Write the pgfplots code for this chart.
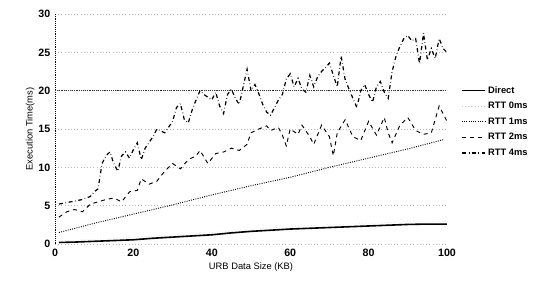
\documentclass[border=0pt]{standalone}
\usepackage{fontspec}
\setmainfont{Liberation Sans}
\usepackage{pgfplots}
\pgfplotsset{compat=1.18}
\begin{document}
\begin{tikzpicture}
\begin{axis}[
  scale only axis,
  width=294pt, height=172.5pt,
  xmin=0, xmax=100, ymin=0, ymax=30,
  xtick={0,20,40,60,80,100},
  ytick={0,5,10,15,20,25,30},
  major tick length=0pt,
  axis lines=left,
  x axis line style={draw=none},
  y axis line style={densely dotted, black, -},
  ymajorgrids,
  grid style={gray!55, dotted},
  extra y ticks={20},
  extra y tick labels={},
  extra y tick style={grid style={black!80, densely dotted, line width=0.6pt}},
  tick label style={font=\footnotesize\bfseries},
  /pgf/number format/assume math mode=true,
  xlabel={\scriptsize URB Data Size (KB)},
  ylabel={\scriptsize Execution Time(ms)},
  xlabel style={yshift=2pt},
  ylabel style={yshift=-4pt},
  legend style={draw=none, fill=none, at={(rel axis cs:1.025,0.71)}, anchor=north west,
    font=\scriptsize\bfseries, row sep=1.3pt},
  legend cell align=left,
]
\addplot[black, line width=1.2pt] coordinates {
(1,0.2)(5,0.25)(10,0.35)(15,0.45)(20,0.55)(25,0.75)(30,0.9)(35,1.05)(40,1.2)(45,1.45)(50,1.65)(55,1.8)(60,1.95)(65,2.05)(70,2.15)(75,2.25)(80,2.35)(85,2.45)(90,2.55)(95,2.6)(100,2.6)};
\addlegendentry{Direct}
\addplot[gray!45, dotted] coordinates {
(1,0.4)(10,0.6)(20,0.9)(30,1.2)(40,1.5)(50,1.9)(60,2.3)(70,2.5)(80,2.7)(90,2.9)(100,3.0)};
\addlegendentry{RTT 0ms}
\addplot[black, densely dotted, line width=0.7pt] coordinates {
(1,1.5)(10,2.7)(20,3.9)(30,5.1)(40,6.4)(50,7.6)(60,8.7)(70,10.0)(80,11.2)(90,12.4)(99,13.6)};
\addlegendentry{RTT 1ms}
\addplot[black, dashed, line width=0.7pt] coordinates {
(1,3.5)(3,4.2)(5,4.5)(7,4.2)(9,5.2)(11,5.5)(13,5.8)(15,6.0)(17,5.5)(19,6.8)(21,7.0)(22,8.5)(24,7.8)(26,8.2)(28,9.5)(30,10.5)(32,9.8)(34,11.0)(36,11.5)(37,12.2)(39,10.5)(41,11.8)(43,12.0)(45,12.5)(47,12.2)(49,13.0)(50,14.5)(52,15.0)(54,15.4)(55,14.8)(57,15.2)(58,14.2)(59,12.8)(60,15.0)(62,14.3)(63,15.5)(65,14.0)(66,13.0)(68,15.5)(70,14.0)(71,11.5)(72,14.5)(74,16.2)(76,14.0)(78,13.5)(80,16.0)(82,14.2)(84,16.5)(85,14.5)(86,13.2)(88,15.5)(90,16.5)(92,14.8)(94,14.3)(96,14.5)(98,18.0)(100,16.0)};
\addlegendentry{RTT 2ms}
\addplot[black, dash dot, line width=0.9pt] coordinates {
(1,5.2)(3,5.4)(5,5.6)(7,5.8)(9,6.2)(10,6.8)(11,7.2)(12,10.5)(13,11.5)(14,12.0)(15,10.5)(16,9.5)(17,11.5)(18,12.0)(19,11.2)(20,12.3)(21,13.2)(22,11.0)(23,12.5)(25,14.0)(26,15.0)(28,14.5)(30,16.0)(31,17.8)(32,18.3)(33,16.2)(34,15.8)(35,17.5)(36,18.8)(37,20.0)(38,19.5)(40,18.8)(41,19.8)(42,18.0)(43,17.0)(44,19.5)(45,20.2)(46,19.0)(47,18.2)(48,20.5)(49,22.8)(50,20.0)(51,20.8)(52,19.6)(53,18.2)(54,17.2)(55,16.8)(56,17.8)(57,18.8)(58,19.5)(59,21.5)(60,22.2)(61,20.5)(62,21.6)(63,20.2)(64,19.8)(65,22.0)(66,20.5)(67,21.8)(68,22.5)(69,23.0)(70,23.6)(71,22.0)(72,20.5)(73,24.5)(74,21.5)(75,20.2)(76,19.0)(77,17.8)(78,20.0)(79,20.8)(80,19.5)(81,18.5)(82,20.5)(83,21.2)(84,19.8)(85,19.0)(86,22.5)(87,24.5)(88,25.8)(89,26.8)(90,27.2)(91,26.5)(92,26.8)(93,23.5)(94,27.5)(95,24.0)(96,25.5)(97,24.2)(98,26.8)(99,25.5)(100,25.0)};
\addlegendentry{RTT 4ms}
\end{axis}
\path (current axis.south west) ++(-41.25pt,-39pt) rectangle ++(418.5pt,222pt);
\end{tikzpicture}
\end{document}
